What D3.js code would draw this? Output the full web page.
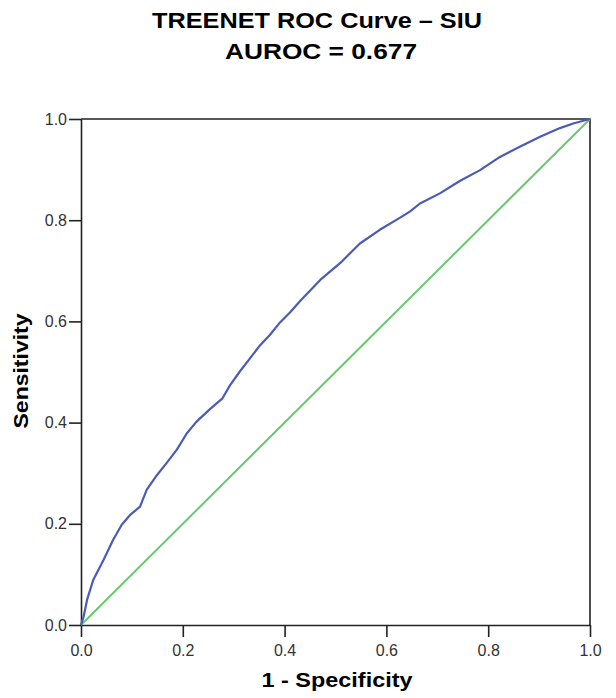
<!DOCTYPE html>
<html>
<head>
<meta charset="utf-8">
<script src="https://cdn.jsdelivr.net/npm/d3@7"></script>
<style>
    body { margin: 0; background: #fff; }
    svg { display: block; font-family: "Liberation Sans", Arial, sans-serif; }
    .axis text { font-size: 16px; fill: #333; }
    .axis path, .axis line { stroke: #222; stroke-width: 1.6; }
    .title { font-size: 22px; font-weight: bold; fill: #000; }
    .axis-label { font-size: 20px; font-weight: bold; fill: #000; }
</style>
</head>
<body>
<div id="chart"></div>
<script>
    // ROC points: false positive rate and true positive rate.
const fpr = [0, 0.005, 0.012, 0.024, 0.044, 0.063, 0.080, 0.096, 0.116, 0.129, 0.149, 0.168, 0.188,
    0.208, 0.227, 0.255, 0.278, 0.293, 0.312, 0.332, 0.352, 0.371, 0.391, 0.411, 0.430, 0.470,
    0.509, 0.548, 0.587, 0.627, 0.646, 0.666, 0.705, 0.745, 0.784, 0.823, 0.862, 0.902, 0.941, 0.967, 1];
const tpr = [0, 0.016, 0.050, 0.089, 0.128, 0.168, 0.198, 0.217, 0.234, 0.267, 0.296, 0.320, 0.346,
    0.379, 0.402, 0.428, 0.448, 0.474, 0.501, 0.527, 0.553, 0.573, 0.598, 0.618, 0.640, 0.682,
    0.715, 0.754, 0.781, 0.805, 0.817, 0.833, 0.853, 0.878, 0.899, 0.925, 0.945, 0.965, 0.982, 0.991, 1];
const chanceLine = [0, 1];
const tickValues = [0, 0.2, 0.4, 0.6, 0.8, 1.0];

const width = 616;
const height = 698;
const margin = { top: 119, right: 26, bottom: 73, left: 81 };

const svg = d3.select("#chart")
    .append("svg")
    .attr("width", width)
    .attr("height", height);

const x = d3.scaleLinear().domain([0, 1]).range([margin.left, width - margin.right]);
const y = d3.scaleLinear().domain([0, 1]).range([height - margin.bottom, margin.top]);

    // Frame top and right.
svg.append("path")
    .attr("d", `M${x(0)},${y(1)}H${x(1)}V${y(0)}`)
    .attr("fill", "none")
    .attr("stroke", "#222")
    .attr("stroke-width", 1.6);

svg.append("g")
    .attr("class", "axis")
    .attr("transform", `translate(0, ${y(0)})`)
    .call(d3.axisBottom(x).tickValues(tickValues).tickSize(12).tickSizeOuter(0).tickPadding(8)
        .tickFormat(d3.format(".1f")));

svg.append("g")
    .attr("class", "axis")
    .attr("transform", `translate(${x(0)}, 0)`)
    .call(d3.axisLeft(y).tickValues(tickValues).tickSize(12).tickSizeOuter(0).tickPadding(2)
        .tickFormat(d3.format(".1f")));

    // Diagonal reference line.
svg.append("path")
    .datum(chanceLine)
    .attr("d", d3.line().x(d => x(d)).y(d => y(d)))
    .attr("fill", "none")
    .attr("stroke", "#6cc870")
    .attr("stroke-width", 2);

    // ROC curve.
const points = fpr.map((f, i) => [f, tpr[i]]);
svg.append("path")
    .datum(points)
    .attr("d", d3.line().x(d => x(d[0])).y(d => y(d[1])))
    .attr("fill", "none")
    .attr("stroke", "#4a5cb4")
    .attr("stroke-width", 2.2)
    .attr("stroke-linejoin", "round");

    // Titles and axis labels.
svg.append("text")
    .attr("class", "title")
    .attr("x", 317).attr("y", 28)
    .attr("text-anchor", "middle")
    .attr("textLength", 330).attr("lengthAdjust", "spacingAndGlyphs")
    .text("TREENET ROC Curve – SIU");

svg.append("text")
    .attr("class", "title")
    .attr("x", 321).attr("y", 59)
    .attr("text-anchor", "middle")
    .attr("textLength", 192).attr("lengthAdjust", "spacingAndGlyphs")
    .text("AUROC = 0.677");

svg.append("text")
    .attr("class", "axis-label")
    .attr("x", 337).attr("y", 687)
    .attr("text-anchor", "middle")
    .attr("textLength", 151).attr("lengthAdjust", "spacingAndGlyphs")
    .text("1 - Specificity");

svg.append("text")
    .attr("class", "axis-label")
    .attr("transform", "translate(28, 371) rotate(-90)")
    .attr("text-anchor", "middle")
    .attr("textLength", 115).attr("lengthAdjust", "spacingAndGlyphs")
    .text("Sensitivity");
</script>
</body>
</html>
